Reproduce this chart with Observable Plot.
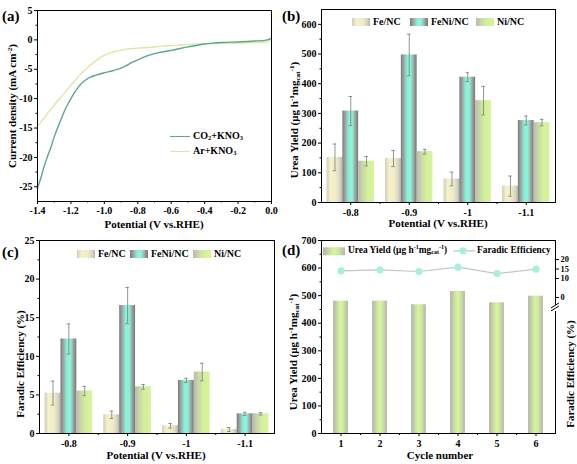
<!DOCTYPE html>
<html>
<head>
<meta charset="utf-8">
<script src="https://cdn.jsdelivr.net/npm/d3@7"></script>
<script src="https://cdn.jsdelivr.net/npm/@observablehq/plot@0.6"></script>
<style>
  body { margin: 0; background: #fff; }
  #fig { position: relative; width: 577px; height: 464px; overflow: hidden;
         font-family: "Liberation Serif", "Times New Roman", serif; font-weight: bold; color: #000; }
  #fig svg.p { position: absolute; }
  .t { position: absolute; white-space: nowrap; line-height: 1; }
  .rot { transform: translate(-50%, -50%) rotate(-90deg); }
  .ctr { transform: translate(-50%, -50%); }
  .pl { font-size: 15px; }
  .ax { font-size: 11px; }
  .lg { font-size: 10px; transform: translateY(-50%); display: flex; align-items: center; }
  .lgs { font-size: 9.4px; }
  sup { font-size: 65%; vertical-align: baseline; position: relative; top: -0.55em; }
  sub { font-size: 65%; vertical-align: baseline; position: relative; top: 0.3em; }
  .sw { display: inline-block; width: 18px; height: 8px; margin-right: 3px; }
  .ln { display: inline-block; width: 20px; height: 0; margin-right: 3px; }
</style>
</head>
<body>
<div id="fig"></div>
<script>
// ---------------- DATA ----------------
// (a) LSV curves
const potentialLSV = [-1.40,-1.38,-1.36,-1.34,-1.32,-1.30,-1.28,-1.26,-1.24,-1.22,-1.20,-1.18,-1.16,-1.14,-1.12,-1.10,-1.08,-1.05,-1.00,-0.95,-0.90,-0.87,-0.84,-0.80,-0.76,-0.72,-0.68,-0.62,-0.56,-0.50,-0.45,-0.40,-0.35,-0.30,-0.20,-0.10,-0.03,0.00];
const currentCO2 = [-25.2,-23.5,-21.5,-19.8,-18.3,-16.5,-15.0,-13.6,-12.2,-11.0,-10.0,-9.0,-8.2,-7.5,-7.0,-6.6,-6.3,-6.0,-5.6,-5.25,-4.8,-4.4,-3.9,-3.4,-2.9,-2.5,-2.2,-1.9,-1.55,-1.2,-0.95,-0.7,-0.55,-0.45,-0.35,-0.2,-0.05,0.3];
const currentAr = [-14.7,-14.0,-13.3,-12.5,-11.8,-11.1,-10.4,-9.75,-9.1,-8.4,-7.7,-7.05,-6.4,-5.8,-5.2,-4.7,-4.2,-3.55,-2.6,-2.1,-1.75,-1.6,-1.5,-1.4,-1.33,-1.25,-1.15,-1.0,-0.9,-0.8,-0.72,-0.65,-0.62,-0.6,-0.55,-0.45,-0.35,-0.1];
const lsvSeries = ["CO2+KNO3", "Ar+KNO3"];
const xTicksA = [-1.4,-1.2,-1.0,-0.8,-0.6,-0.4,-0.2,0.0];
const yTicksA = [5,0,-5,-10,-15,-20,-25];

// (b),(c) grouped bars
const potentials = ["-0.8", "-0.9", "-1", "-1.1"];
const catalysts = ["Fe/NC", "FeNi/NC", "Ni/NC"];
const yieldFe = [152, 148, 79, 55];
const yieldFeErr = [45, 27, 23, 34];
const yieldFeNi = [308, 497, 422, 276];
const yieldFeNiErr = [49, 70, 15, 15];
const yieldNi = [139, 171, 343, 269];
const yieldNiErr = [16, 8, 48, 11];
const feFe = [5.23, 2.42, 1.0, 0.52];
const feFeErr = [1.55, 0.48, 0.3, 0.26];
const feFeNi = [12.24, 16.57, 6.88, 2.55];
const feFeNiErr = [1.95, 2.35, 0.28, 0.2];
const feNi = [5.5, 6.05, 7.96, 2.55];
const feNiErr = [0.6, 0.3, 1.14, 0.15];
const yTicksB = [0,100,200,300,400,500,600];
const yTicksC = [0,5,10,15,20,25];

// (d) cycling
const cycles = [1, 2, 3, 4, 5, 6];
const cycleYield = [480, 480, 467, 515, 474, 498];
const cycleFE = [14.0, 14.6, 13.7, 16.0, 12.6, 14.9];
const yTicksD = [0,100,200,300,400,500,600,700];
const feTicksD = [0, 10, 15, 20];
const feOffset = 493.4;   // yield-axis value where FE = 0 on the broken right axis
const feScale = 6.875;    // yield-axis units per 1 % FE
const breakAt = 450;      // axis break position (yield-axis units)

// ---------------- STYLE ----------------
const grads = {
  gFe:   [[0,"#cfcdc0"],[0.25,"#f5f1c9"],[0.6,"#f0ecc6"],[0.85,"#d6d4c6"],[1,"#b3b3ac"]],
  gFeNi: [[0,"#7b7b7b"],[0.18,"#a2a2a2"],[0.4,"#84f2d6"],[0.62,"#8cf4da"],[0.85,"#9a9a9a"],[1,"#767676"]],
  gNi:   [[0,"#b9b9b2"],[0.3,"#cad9a6"],[0.6,"#d3f09c"],[1,"#d6f49a"]],
  gCyc:  [[0,"#b3b3ab"],[0.3,"#c9dfa4"],[0.5,"#d8f69a"],[0.7,"#cde6a0"],[1,"#b6b6ae"]]
};
const catGrad = ["gFe", "gFeNi", "gNi"];
const colCO2 = "#5aa88a", colAr = "#dde6a8";
const feLine = "#c4c4d2", feDot = "#a6f0dc";
const errCol = "#7a7a7a";
const baseStyle = {fontFamily: '"Liberation Serif", "Times New Roman", serif', fontSize: "10px", fontWeight: "bold", color: "#000", background: "transparent", overflow: "visible"};

const fig = document.getElementById("fig");

// gradient defs
const defs = d3.select(fig).append("svg").attr("width", 0).attr("height", 0)
  .style("position", "absolute").append("defs");
for (const [id, stops] of Object.entries(grads)) {
  const g = defs.append("linearGradient").attr("id", id).attr("x1", 0).attr("x2", 1).attr("y1", 0).attr("y2", 0);
  for (const [o, c] of stops) g.append("stop").attr("offset", o).attr("stop-color", c);
}
const cssGrad = id => `linear-gradient(to right, ${grads[id].map(([o, c]) => `${c} ${o * 100}%`).join(", ")})`;

function place(svg, left, top) {
  svg.classList.add("p");
  svg.style.left = left + "px";
  svg.style.top = top + "px";
  fig.appendChild(svg);
}
function addText(html, cls, x, y) {
  const d = document.createElement("div");
  d.className = "t " + cls;
  d.style.left = x + "px";
  d.style.top = y + "px";
  d.innerHTML = html;
  fig.appendChild(d);
  return d;
}
const mid = a => a.slice(0, -1).map((v, i) => (v + a[i + 1]) / 2);

// ---------------- (a) ----------------
const lsvRows = potentialLSV.flatMap((x, i) => [
  {x, y: currentCO2[i], s: lsvSeries[0]},
  {x, y: currentAr[i], s: lsvSeries[1]}
]);
const plotA = Plot.plot({
  width: 288, height: 232, marginLeft: 37, marginRight: 17, marginTop: 10, marginBottom: 31,
  style: baseStyle,
  x: {domain: [-1.4, 0]},
  y: {domain: [-27.5, 5]},
  marks: [
    Plot.line(lsvRows.filter(d => d.s === lsvSeries[1]), {x: "x", y: "y", stroke: colAr, strokeWidth: 1.4, curve: "monotone-x"}),
    Plot.line(lsvRows.filter(d => d.s === lsvSeries[0]), {x: "x", y: "y", stroke: colCO2, strokeWidth: 1.4, curve: "monotone-x"}),
    Plot.frame({stroke: "#000"}),
    Plot.axisX({ticks: xTicksA, tickFormat: d => d.toFixed(1), tickSize: 3, tickPadding: 2, label: null}),
    Plot.axisX({ticks: mid(xTicksA), tickFormat: () => "", tickSize: 1.5, label: null}),
    Plot.axisY({ticks: yTicksA, tickFormat: d => String(d), tickSize: 3, tickPadding: 2, label: null}),
    Plot.axisY({ticks: mid(yTicksA), tickFormat: () => "", tickSize: 1.5, label: null})
  ]
});
place(plotA, 0, 0);

// ---------------- grouped bars helper ----------------
function groupedPlot(vals, errs, yDomain, yTicks, dims) {
  const w = 0.27;
  const rows = [];
  vals.forEach((arr, k) => arr.forEach((v, i) => {
    const c = i + 1 + (k - 1) * w;
    rows.push({k, c, v, e: errs[k][i]});
  }));
  const groupIdx = potentials.map((_, i) => i + 1);
  return Plot.plot({
    ...dims,
    style: baseStyle,
    x: {domain: [0.5, potentials.length + 0.5]},
    y: {domain: yDomain},
    marks: [
      ...catalysts.map((_, k) => Plot.rectY(rows.filter(r => r.k === k), {
        x1: r => r.c - w / 2, x2: r => r.c + w / 2, y1: 0, y2: "v", fill: `url(#${catGrad[k]})`
      })),
      Plot.ruleX(rows, {x: "c", y1: r => r.v - r.e, y2: r => r.v + r.e, stroke: errCol, strokeWidth: 0.8}),
      Plot.ruleY(rows, {y: r => r.v + r.e, x1: r => r.c - 0.03, x2: r => r.c + 0.03, stroke: errCol, strokeWidth: 0.8}),
      Plot.ruleY(rows, {y: r => r.v - r.e, x1: r => r.c - 0.03, x2: r => r.c + 0.03, stroke: errCol, strokeWidth: 0.8}),
      Plot.frame({stroke: "#000"}),
      Plot.axisX({ticks: groupIdx, tickFormat: d => potentials[d - 1], tickSize: 3, tickPadding: 3, label: null}),
      Plot.axisX({ticks: mid(groupIdx), tickFormat: () => "", tickSize: 2, label: null}),
      Plot.axisY({ticks: yTicks, tickFormat: d => String(d), tickSize: 3, tickPadding: 2, label: null}),
      Plot.axisY({ticks: mid(yTicks), tickFormat: () => "", tickSize: 1.5, label: null})
    ]
  });
}

// ---------------- (b) ----------------
const plotB = groupedPlot([yieldFe, yieldFeNi, yieldNi], [yieldFeErr, yieldFeNiErr, yieldNiErr],
  [0, 650], yTicksB,
  {width: 289, height: 232, marginLeft: 33, marginRight: 22, marginTop: 9, marginBottom: 30});
place(plotB, 288, 0);

// ---------------- (c) ----------------
const plotC = groupedPlot([feFe, feFeNi, feNi], [feFeErr, feFeNiErr, feNiErr],
  [0, 25], yTicksC,
  {width: 288, height: 234, marginLeft: 39, marginRight: 14, marginTop: 10, marginBottom: 31});
place(plotC, 0, 230);

// ---------------- (d) ----------------
const cycRows = cycles.map((c, i) => ({c, v: cycleYield[i], fe: cycleFE[i], yf: feOffset + feScale * cycleFE[i]}));
function axisBreak(index, scales, values, dims) {
  const g = d3.create("svg:g");
  const x = dims.width - dims.marginRight, y = scales.y(breakAt);
  g.append("rect").attr("x", x - 2).attr("y", y - 4).attr("width", 4).attr("height", 6).attr("fill", "#fff");
  g.append("line").attr("x1", x - 4).attr("y1", y + 2).attr("x2", x + 4).attr("y2", y - 3).attr("stroke", "#000");
  g.append("line").attr("x1", x - 4).attr("y1", y - 1).attr("x2", x + 4).attr("y2", y - 6).attr("stroke", "#000");
  return g.node();
}
const plotD = Plot.plot({
  width: 289, height: 234, marginLeft: 33, marginRight: 22, marginTop: 10, marginBottom: 31,
  style: baseStyle,
  x: {domain: [0.5, cycles.length + 0.5]},
  y: {domain: [0, 700]},
  marks: [
    Plot.rectY(cycRows, {x1: d => d.c - 0.19, x2: d => d.c + 0.19, y1: 0, y2: "v", fill: "url(#gCyc)"}),
    Plot.line(cycRows, {x: "c", y: "yf", stroke: feLine, strokeWidth: 1.2}),
    Plot.dot(cycRows, {x: "c", y: "yf", r: 3.6, fill: feDot}),
    Plot.frame({stroke: "#000"}),
    Plot.axisX({ticks: cycles, tickFormat: d => String(d), tickSize: 3, tickPadding: 3, label: null}),
    Plot.axisX({ticks: mid(cycles), tickFormat: () => "", tickSize: 2, label: null}),
    Plot.axisY({ticks: yTicksD, tickFormat: d => String(d), tickSize: 3, tickPadding: 2, label: null}),
    Plot.axisY({ticks: mid(yTicksD), tickFormat: () => "", tickSize: 1.5, label: null}),
    Plot.axisY(feTicksD.map(f => feOffset + feScale * f), {anchor: "right", tickFormat: d => String(Math.round((d - feOffset) / feScale)), tickSize: 3, tickPadding: 2, fontSize: 8.4, label: null}),
    axisBreak
  ]
});
place(plotD, 288, 230);

// ---------------- text overlays ----------------
addText("(a)", "pl", 2, 9);
addText("(b)", "pl", 282, 9);
addText("(c)", "pl", 2, 245);
addText("(d)", "pl", 282, 243);

const uy = "Urea Yield (μg h<sup>-1</sup>mg<sub>cat</sub><sup>-1</sup>)";
addText("Current density (mA cm<sup>-2</sup>)", "ax rot", 13, 106);
addText("Potential (V vs.RHE)", "ax ctr", 154, 224);
addText(uy, "ax rot", 295, 120);
addText("Potential (V vs.RHE)", "ax ctr", 438, 223);
addText("Faradic Efficiency (%)", "ax rot", 20, 364);
addText("Potential (V vs.RHE)", "ax ctr", 156, 455);
addText(uy, "ax rot", 294, 352);
addText("Cycle number", "ax ctr", 440, 455);
addText("Faradic Efficiency (%)", "ax rot", 570, 374);

// legends
addText(`<span class="ln" style="border-top:1.5px solid ${colCO2}"></span>CO<sub>2</sub>+KNO<sub>3</sub>`, "lg", 170, 136);
addText(`<span class="ln" style="border-top:1.5px solid ${colAr}"></span>Ar+KNO<sub>3</sub>`, "lg", 170, 151);

function barLegend(x0s, y) {
  catalysts.forEach((c, k) => {
    addText(`<span class="sw" style="background:${cssGrad(catGrad[k])}"></span>${c}`, "lg", x0s[k], y);
  });
}
barLegend([352, 410, 476], 22);
barLegend([77, 130, 193], 254);

addText(`<span class="sw" style="width:22px;background:${cssGrad("gCyc")}"></span>${uy}`, "lg lgs", 323, 251);
addText(`<svg width="22" height="9" style="margin-right:2px"><line x1="0" x2="22" y1="4.5" y2="4.5" stroke="${feLine}" stroke-width="1.2"/><circle cx="10" cy="4.5" r="3.6" fill="${feDot}"/></svg>Faradic Efficiency`, "lg lgs", 453, 251);
</script>
</body>
</html>
